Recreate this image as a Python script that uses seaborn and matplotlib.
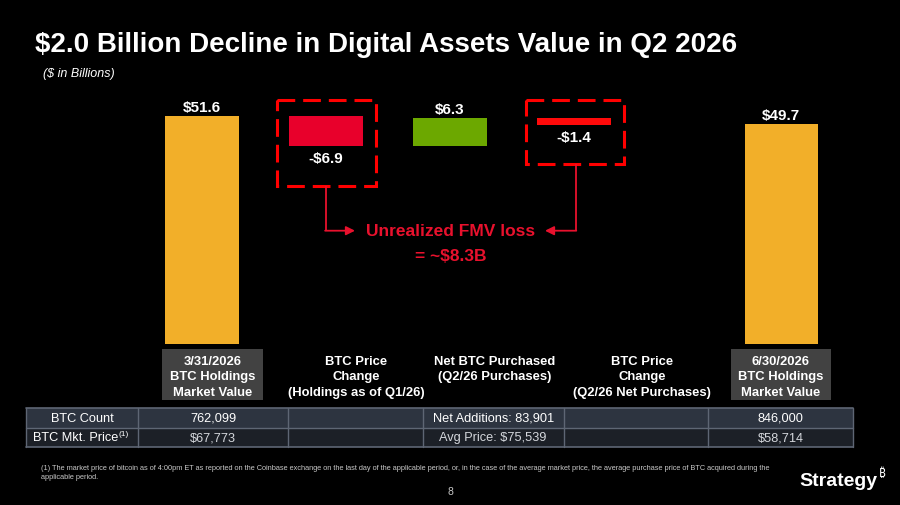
import matplotlib
matplotlib.use("Agg")
import matplotlib.pyplot as plt
import seaborn as sns
import numpy as np
import pandas as pd
from matplotlib.patches import Rectangle

# ---------------- data ----------------
step_labels = [
    "3/31/2026\nBTC Holdings\nMarket Value",
    "BTC Price\nChange\n(Holdings as of Q1/26)",
    "Net BTC Purchased\n(Q2/26 Purchases)",
    "BTC Price\nChange\n(Q2/26 Net Purchases)",
    "6/30/2026\nBTC Holdings\nMarket Value",
]
step_kind = ["total", "delta", "delta", "delta", "total"]
step_values = [51.6, -6.9, 6.3, -1.4, 49.7]
value_labels = ["$51.6", "-$6.9", "$6.3", "-$1.4", "$49.7"]

table_row_labels = ["BTC Count", "BTC Mkt. Price"]
btc_count = ["762,099", "", "Net Additions: 83,901", "", "846,000"]
btc_price = ["$67,773", "", "Avg Price: $75,539", "", "$58,714"]

title = "$2.0 Billion Decline in Digital Assets Value in Q2 2026"
subtitle = "($ in Billions)"
callout = "Unrealized FMV loss\n= ~$8.3B"
footnote = ("(1) The market price of bitcoin as of 4:00pm ET as reported on the Coinbase exchange on the last day of the "
            "applicable period, or, in the case of the average market price, the average purchase price of BTC acquired during the\n"
            "applicable period.")

# ---------------- styles / layout ----------------
bar_colors = ["#F2AF29", "#E8002B", "#6CA800", "#FF0A0A", "#F2AF29"]
bar_x = [0, 1, 2, 3, 4.67]
label_cx = [212.5, 356.5, 495, 642, 781]
col_edges = [26, 138.3, 288.3, 422.5, 563.7, 707.5, 853.3]
CRIMSON = "#E8112D"

sns.set_theme(style="dark")
plt.rcParams["font.family"] = ["Liberation Sans", "DejaVu Sans"]

W, H = 900, 506
fig = plt.figure(figsize=(9, 5.06), dpi=100, facecolor="black")

# bar axes: y=0 at px 345, 4.424 px per $B; x unit = 124 px, x=0 at px 202
ax_l, ax_r, ax_t, ax_b = 140, 860, 90, 345
ax = fig.add_axes([ax_l / W, 1 - ax_b / H, (ax_r - ax_l) / W, (ax_b - ax_t) / H])
ax.set_facecolor("black")

level = 0.0
bottoms, heights = [], []
for kind, v in zip(step_kind, step_values):
    if kind == "total":
        bottoms.append(0.0)
        heights.append(v)
        level = v
    else:
        bottoms.append(level if v > 0 else level + v)
        heights.append(abs(v))
        level += v

for i in range(len(step_values)):
    sns.barplot(x=[bar_x[i]], y=[heights[i]], bottom=bottoms[i], native_scale=True,
                orient="x", color=bar_colors[i], saturation=1, width=0.59,
                errorbar=None, linewidth=0, ax=ax)

ax.set_xlim((ax_l - 202) / 124, (ax_r - 202) / 124)
ax.set_ylim(0, (ax_b - ax_t) / 4.424)
ax.axis("off")

for i, (kind, v) in enumerate(zip(step_kind, step_values)):
    if kind == "delta" and v < 0:
        ax.annotate(value_labels[i], (bar_x[i], bottoms[i]), xytext=(0, -12),
                    textcoords="offset pixels", ha="center", va="center",
                    color="white", fontsize=11, fontweight="bold")
    else:
        ax.annotate(value_labels[i], (bar_x[i], bottoms[i] + heights[i]), xytext=(0, 9),
                    textcoords="offset pixels", ha="center", va="center",
                    color="white", fontsize=11, fontweight="bold")

# overlay axes in pixel coordinates
ov = fig.add_axes([0, 0, 1, 1])
ov.set_xlim(0, W)
ov.set_ylim(H, 0)
ov.patch.set_alpha(0)
ov.axis("off")

ov.text(35, 51.5, title, color="white", fontsize=20, fontweight="bold", ha="left", va="baseline")
ov.text(43, 74, subtitle, color="white", fontsize=9, fontstyle="italic", ha="left", va="center")

# dashed boxes
dash = (0, (5.8, 2.6))
ov.add_patch(Rectangle((276.7, 100.7), 99.3, 86, fill=False, ec="#FF0000", lw=2.2, ls=dash))
ov.add_patch(Rectangle((525.7, 100.7), 98.6, 64.6, fill=False, ec="#FF0000", lw=2.2, ls=dash))

# connectors
ov.plot([325.7, 325.7], [186.7, 231.7], color=CRIMSON, lw=1.3, solid_capstyle="butt")
ov.annotate("", xy=(355, 231.7), xytext=(325.1, 231.7),
            arrowprops=dict(arrowstyle="-|>", color=CRIMSON, lw=1.3, mutation_scale=13,
                            shrinkA=0, shrinkB=0))
ov.plot([575.7, 575.7], [165.3, 231.7], color=CRIMSON, lw=1.3, solid_capstyle="butt")
ov.annotate("", xy=(545, 231.7), xytext=(576.3, 231.7),
            arrowprops=dict(arrowstyle="-|>", color=CRIMSON, lw=1.3, mutation_scale=13,
                            shrinkA=0, shrinkB=0))
l1, l2 = callout.split("\n")
ov.text(450.5, 231.7, l1, color=CRIMSON, fontsize=12.5, fontweight="bold", ha="center", va="center")
ov.text(450.5, 256.7, l2, color=CRIMSON, fontsize=12.5, fontweight="bold", ha="center", va="center")

# category labels
for i, lab in enumerate(step_labels):
    if step_kind[i] == "total":
        ov.add_patch(Rectangle((label_cx[i] - 50.2, 350), 100.4, 50.7, fc="#424242", ec="none"))
    ov.text(label_cx[i], 356, lab, color="white", fontsize=9.4, fontweight="bold",
            ha="center", va="top", linespacing=1.38)

# table
row_top = [409.3, 428.7]
row_bot = [428.7, 447.7]
row_fill = ["#2D3440", "#1C2027"]
line_c = "#5E6674"
for r in range(2):
    ov.add_patch(Rectangle((col_edges[0], row_top[r]), col_edges[-1] - col_edges[0],
                           row_bot[r] - row_top[r], fc=row_fill[r], ec="none"))
ov.plot([col_edges[0], col_edges[-1]], [409.3, 409.3], color=line_c, lw=1.2)
ov.plot([col_edges[0], col_edges[-1]], [428.7, 428.7], color=line_c, lw=1.0)
ov.plot([col_edges[0], col_edges[-1]], [447.7, 447.7], color=line_c, lw=1.2)
for xe in col_edges:
    ov.plot([xe, xe], [409.3, 447.7], color=line_c, lw=1.0)

rows = [btc_count, btc_price]
val_colors = ["white", "#D4D7DC"]
for r in range(2):
    cy = (row_top[r] + row_bot[r]) / 2
    cx0 = (col_edges[0] + col_edges[1]) / 2
    if r == 0:
        ov.text(cx0, cy, table_row_labels[r], color="white", fontsize=9.2, ha="center", va="center")
    else:
        ov.text(118, cy, table_row_labels[r], color="white", fontsize=9.2, ha="right", va="center")
        ov.text(118.5, cy - 3.5, "(1)", color="white", fontsize=6, ha="left", va="center")
    for c, val in enumerate(rows[r]):
        if val:
            cx = (col_edges[c + 1] + col_edges[c + 2]) / 2
            ov.text(cx, cy, val, color=val_colors[r], fontsize=9.2, ha="center", va="center")

# footnote, page number, logo
ov.text(40.7, 465.5, footnote, color="#C8C8C8", fontsize=5.3, ha="left", va="top", linespacing=1.3)
ov.text(450, 492, "8", color="#C8C8C8", fontsize=7.5, ha="center", va="center")
ov.text(799, 486, "Strategy", color="white", fontsize=14, fontweight="bold", ha="left", va="baseline")
ov.text(879, 477.5, "\u20bf", color="white", fontsize=8.5, fontweight="bold", ha="left", va="baseline",
        family=["Noto Sans", "DejaVu Sans"])

fig.savefig("out.png", dpi=100, facecolor="black")
